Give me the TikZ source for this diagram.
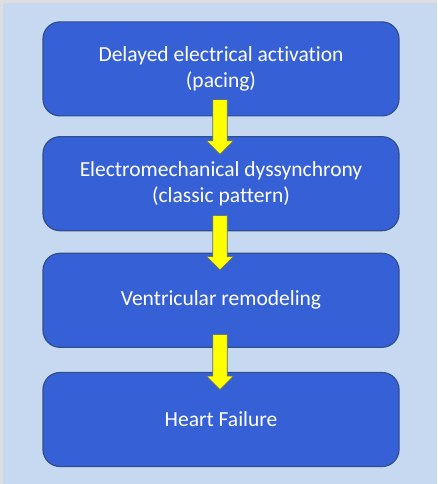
\documentclass[tikz,border=0pt]{standalone}
\usepackage{fontspec}
\setmainfont[Ligatures=NoCommon]{Carlito}
\usetikzlibrary{calc}
\definecolor{outerbg}{HTML}{DEDEDE}
\definecolor{panelbg}{HTML}{C6D9F0}
\definecolor{boxfill}{HTML}{3660D6}
\definecolor{boxline}{HTML}{2F4F8F}
\definecolor{arrowfill}{HTML}{FFFF00}
\definecolor{arrowline}{HTML}{5A6A7A}
\tikzset{
  stepbox/.style={draw=boxline, line width=1.2pt, fill=boxfill, rounded corners=17pt,
    minimum width=356pt, minimum height=94pt, inner sep=0pt,
    text=white, align=center,
    font=\fontsize{21.5pt}{26pt}\selectfont},
  yarrow/.style={draw=arrowline, line width=0.6pt, fill=arrowfill},
}
\newcommand\fatarrow[2]{%
  \draw[yarrow] let \p1=(#1), \p2=(#2) in
    (\x1-7.25pt,\y1) -- (\x1+7.25pt,\y1) -- (\x1+7.25pt,\y2+13.5pt) --
    (\x1+13.5pt,\y2+13.5pt) -- (\x1,\y2) -- (\x1-13.5pt,\y2+13.5pt) --
    (\x1-7.25pt,\y2+13.5pt) -- cycle;}
\begin{document}
\begin{tikzpicture}[x=1pt,y=-1pt]
  \fill[outerbg] (0,0) rectangle (437,484);
  \fill[panelbg] (3,3) rectangle (437,484);
  \useasboundingbox (0,0) rectangle (437,484);
  \node[stepbox] (b1) at (221,68.9) {Delayed electrical activation\\(pacing)};
  \node[stepbox] (b2) at (221,183.7) {Electromechanical dyssynchrony\\(classic pattern)};
  \node[stepbox] (b3) at (221,300.3) {Ventricular remodeling};
  \node[stepbox] (b4) at (221,419.5) {Heart Failure};
  \coordinate (a1s) at ($(b1.south)+(-1,-17)$);
  \coordinate (a1e) at ($(b2.north)+(-1,18.3)$);
  \coordinate (a2s) at ($(b2.south)+(-1,-15.7)$);
  \coordinate (a2e) at ($(b3.north)+(-1,17.4)$);
  \coordinate (a3s) at ($(b3.south)+(-1,-13.3)$);
  \coordinate (a3e) at ($(b4.north)+(-1,17.7)$);
  \fatarrow{a1s}{a1e}
  \fatarrow{a2s}{a2e}
  \fatarrow{a3s}{a3e}
\end{tikzpicture}
\end{document}
